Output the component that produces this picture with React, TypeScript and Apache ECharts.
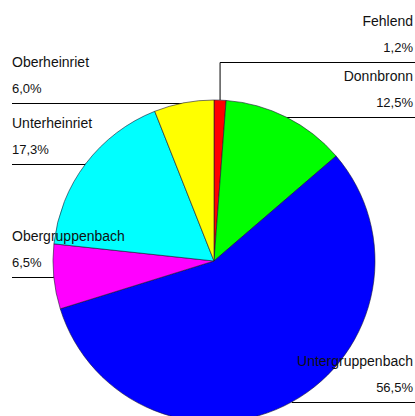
import React, { useEffect, useRef } from "react";
import * as echarts from "echarts";

const categories = ["Fehlend", "Donnbronn", "Untergruppenbach", "Obergruppenbach", "Unterheinriet", "Oberheinriet"];
const values = [1.2, 12.5, 56.5, 6.5, 17.3, 6.0];
const colors = ["#ff0000", "#00ff00", "#0000ff", "#ff00ff", "#00ffff", "#ffff00"];

const W = 415;
const H = 416;

export default function App() {
  const ref = useRef<HTMLDivElement>(null);
  useEffect(() => {
    if (!ref.current) return;
    const chart = echarts.init(ref.current, null, { renderer: "svg" });
    const data = categories.map((name, i) => ({
      name,
      value: values[i],
      itemStyle: { color: colors[i] },
    }));
    chart.setOption({
      animation: false,
      backgroundColor: "#ffffff",
      series: [
        {
          type: "pie",
          center: [214, 261],
          radius: 161,
          startAngle: 90,
          clockwise: true,
          avoidLabelOverlap: false,
          data,
          itemStyle: { borderColor: "#1a1a33", borderWidth: 0.6 },
          emphasis: { disabled: true },
          label: {
            show: true,
            position: "outside",
            formatter: (p: any) =>
              `{n|${p.name}}\n{v|${Number(p.value).toFixed(1).replace(".", ",")}%}`,
            rich: {
              n: { fontFamily: "Liberation Sans, Arial, sans-serif", fontSize: 14, color: "#111", lineHeight: 27 },
              v: { fontFamily: "Liberation Sans, Arial, sans-serif", fontSize: 13, color: "#111", lineHeight: 27 },
            },
          },
          labelLine: {
            show: true,
            length: 0,
            length2: 10,
            smooth: false,
            lineStyle: { color: "#000", width: 1 },
          },
          labelLayout: (params: any) => {
            const pts = params.labelLinePoints;
            if (!pts) return {};
            const sx = pts[0][0];
            const sy = pts[0][1];
            const right = sx >= 214;
            const rise = params.dataIndex === 0 ? 38 : 0;
            const lineY = Math.round(sy - rise) + 0.5;
            const endX = right ? W : 12;
            return {
              x: right ? W - 2 : 12,
              y: lineY - 1.5,
              align: right ? "right" : "left",
              verticalAlign: "bottom",
              labelLinePoints: [
                [sx, sy],
                [sx, lineY],
                [endX, lineY],
              ],
            };
          },
        },
      ],
    });
    return () => chart.dispose();
  }, []);
  return (
    <div
      ref={ref}
      style={{ position: "fixed", left: 0, top: 0, width: W, height: H }}
    />
  );
}
